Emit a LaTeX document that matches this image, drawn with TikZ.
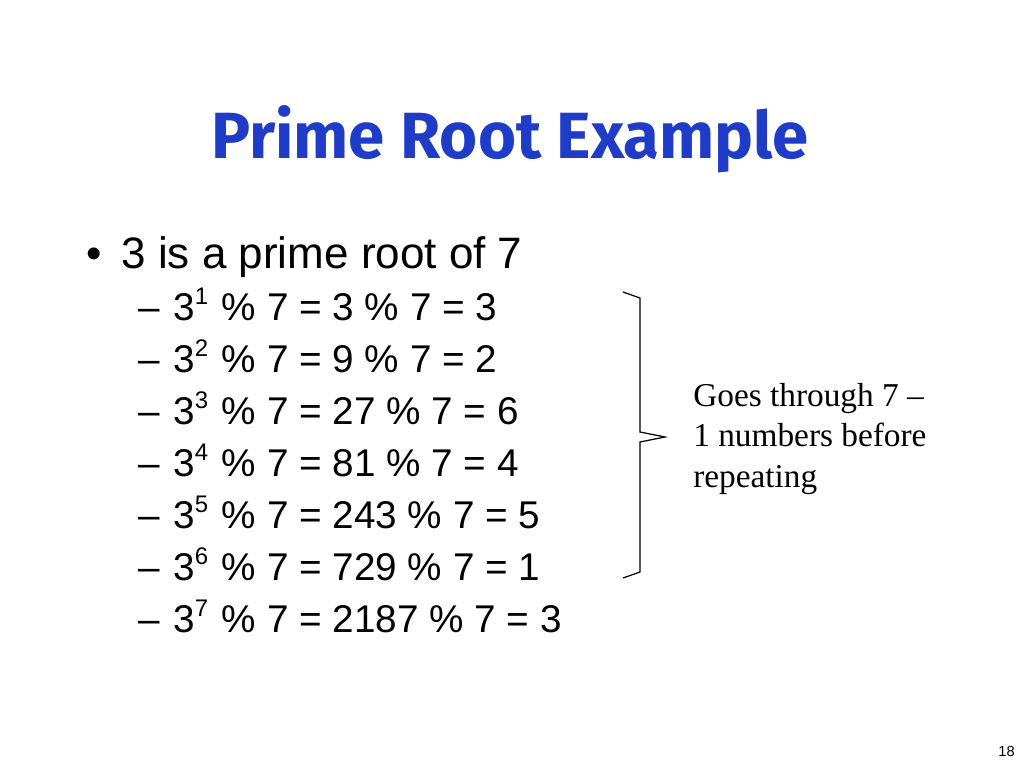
\documentclass[tikz,border=0pt]{standalone}
\usepackage{fontspec}
\setmainfont{Liberation Serif}
\newfontfamily\bodyfont{Liberation Sans}
\newfontfamily\titlefont{Fira Sans}
\definecolor{titleblue}{HTML}{1F3CC8}
\newcommand{\supr}[1]{\raisebox{0.4em}{\fontsize{18}{18}\selectfont #1}\hspace{0.08em}}
\begin{document}
\begin{tikzpicture}[x=0.75pt,y=-0.75pt,
  title/.style={font=\titlefont\fontsize{49}{56}\selectfont\bfseries,text=titleblue,inner sep=0},
  lvlone/.style={font=\bodyfont\fontsize{33}{36}\selectfont,anchor=base west,inner sep=0},
  lvltwo/.style={font=\bodyfont\fontsize{29}{32}\selectfont,anchor=base west,inner sep=0},
  note/.style={font=\fontsize{25}{30}\selectfont,anchor=base west,inner sep=0}]
\useasboundingbox (0,0) rectangle (1024,768);
\node[title] (t) at (510,139) {Prime Root Example};
\node[lvlone] (b) at (86,268) {\textbullet\hspace{0.45em}3 is a prime root of 7};
\foreach \i/\e/\v [count=\k] in {1/3/3,2/9/2,3/27/6,4/81/4,5/243/5,6/729/1,7/2187/3}
  \node[lvltwo] (l\k) at (138,{268+52*\k}) {\textendash\hspace{0.35em}3\supr{\i} \% 7 = \e\ \% 7 = \v};
\coordinate (bt) at (623,292);
\coordinate (bb) at (623,578);
\coordinate (tip) at (665,437);
\draw[line width=0.9pt] (bt) -- (640,298) -- (640,432) -- (tip) -- (640,442) -- (640,572) -- (bb);
\node[note] (n1) at (693,406) {Goes through 7 \textendash};
\node[note] (n2) at (693,446) {1 numbers before};
\node[note] (n3) at (693,487) {repeating};
\node[font=\bodyfont\fontsize{11}{13}\selectfont,anchor=base east,inner sep=0] (pg) at (1015,756) {18};
\end{tikzpicture}
\end{document}
